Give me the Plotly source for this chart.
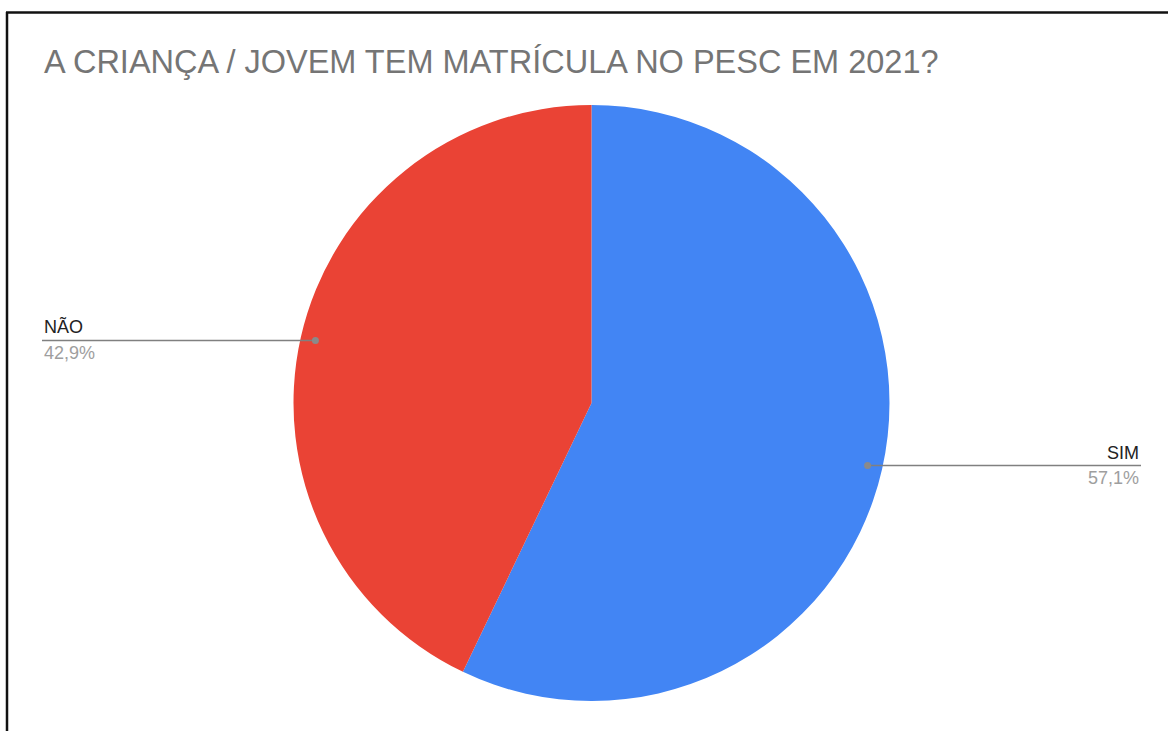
import math
import plotly.graph_objects as go

labels = ["SIM", "NÃO"]
values = [57.1, 42.9]
pct_labels = ["57,1%", "42,9%"]
colors = ["#4285F4", "#EA4335"]
title = "A CRIANÇA / JOVEM TEM MATRÍCULA NO PESC EM 2021?"

W, H = 1168, 731
cx, cy, R = 591.5, 403, 298  # pie centre / radius in pixels (from top)

def px(x):
    return x / W

def py(y):
    return 1 - y / H

fig = go.Figure()
fig.add_trace(go.Pie(
    labels=labels, values=values, sort=False, direction="clockwise", rotation=0,
    marker=dict(colors=colors, line=dict(width=0)),
    textinfo="none", hoverinfo="label+percent", showlegend=False,
    domain=dict(x=[px(cx - R), px(cx + R)], y=[py(cy + R), py(cy - R)]),
))

shapes = []
annotations = []
total = sum(values)
start = 0.0
label_x = {"SIM": 1141, "NÃO": 42}
for lab, v, pct in zip(labels, values, pct_labels):
    frac = v / total
    mid = (start + frac / 2) * 2 * math.pi
    start += frac
    dx = math.sin(mid) * R * 0.95
    dy = -math.cos(mid) * R * 0.95
    dot_x, dot_y = cx + dx, cy + dy
    lx = label_x[lab]
    shapes.append(dict(type="line", xref="paper", yref="paper",
                       x0=px(dot_x), x1=px(lx), y0=py(dot_y), y1=py(dot_y),
                       line=dict(color="#808080", width=1.5)))
    shapes.append(dict(type="circle", xref="paper", yref="paper",
                       x0=px(dot_x - 3.5), x1=px(dot_x + 3.5),
                       y0=py(dot_y - 3.5), y1=py(dot_y + 3.5),
                       fillcolor="#8a8a8a", line=dict(width=0)))
    anchor = "right" if lx > cx else "left"
    annotations.append(dict(text=lab, xref="paper", yref="paper",
                            x=px(lx), y=py(dot_y - 1), xanchor=anchor, yanchor="bottom",
                            showarrow=False,
                            font=dict(family="Liberation Sans, Arial", size=18, color="#222222")))
    annotations.append(dict(text=pct, xref="paper", yref="paper",
                            x=px(lx), y=py(dot_y + 0.5), xanchor=anchor, yanchor="top",
                            showarrow=False,
                            font=dict(family="Liberation Sans, Arial", size=18, color="#9e9e9e")))

# frame (left and top edges)
shapes.append(dict(type="line", xref="paper", yref="paper",
                   x0=px(7), x1=px(7), y0=0, y1=py(12),
                   line=dict(color="#111111", width=2.5)))
shapes.append(dict(type="line", xref="paper", yref="paper",
                   x0=px(6), x1=1, y0=py(12.5), y1=py(12.5),
                   line=dict(color="#111111", width=2.5)))

annotations.append(dict(text=title, xref="paper", yref="paper",
                        x=px(42), y=py(62), xanchor="left", yanchor="middle",
                        showarrow=False,
                        font=dict(family="Liberation Sans, Arial", size=32.5, color="#757575")))

fig.update_layout(
    width=W, height=H, margin=dict(l=0, r=0, t=0, b=0),
    paper_bgcolor="white", plot_bgcolor="white",
    shapes=shapes, annotations=annotations,
)

fig.write_html("out.html", config={"displayModeBar": False},
               post_script="document.body.style.margin='0';document.body.style.overflow='hidden';")
